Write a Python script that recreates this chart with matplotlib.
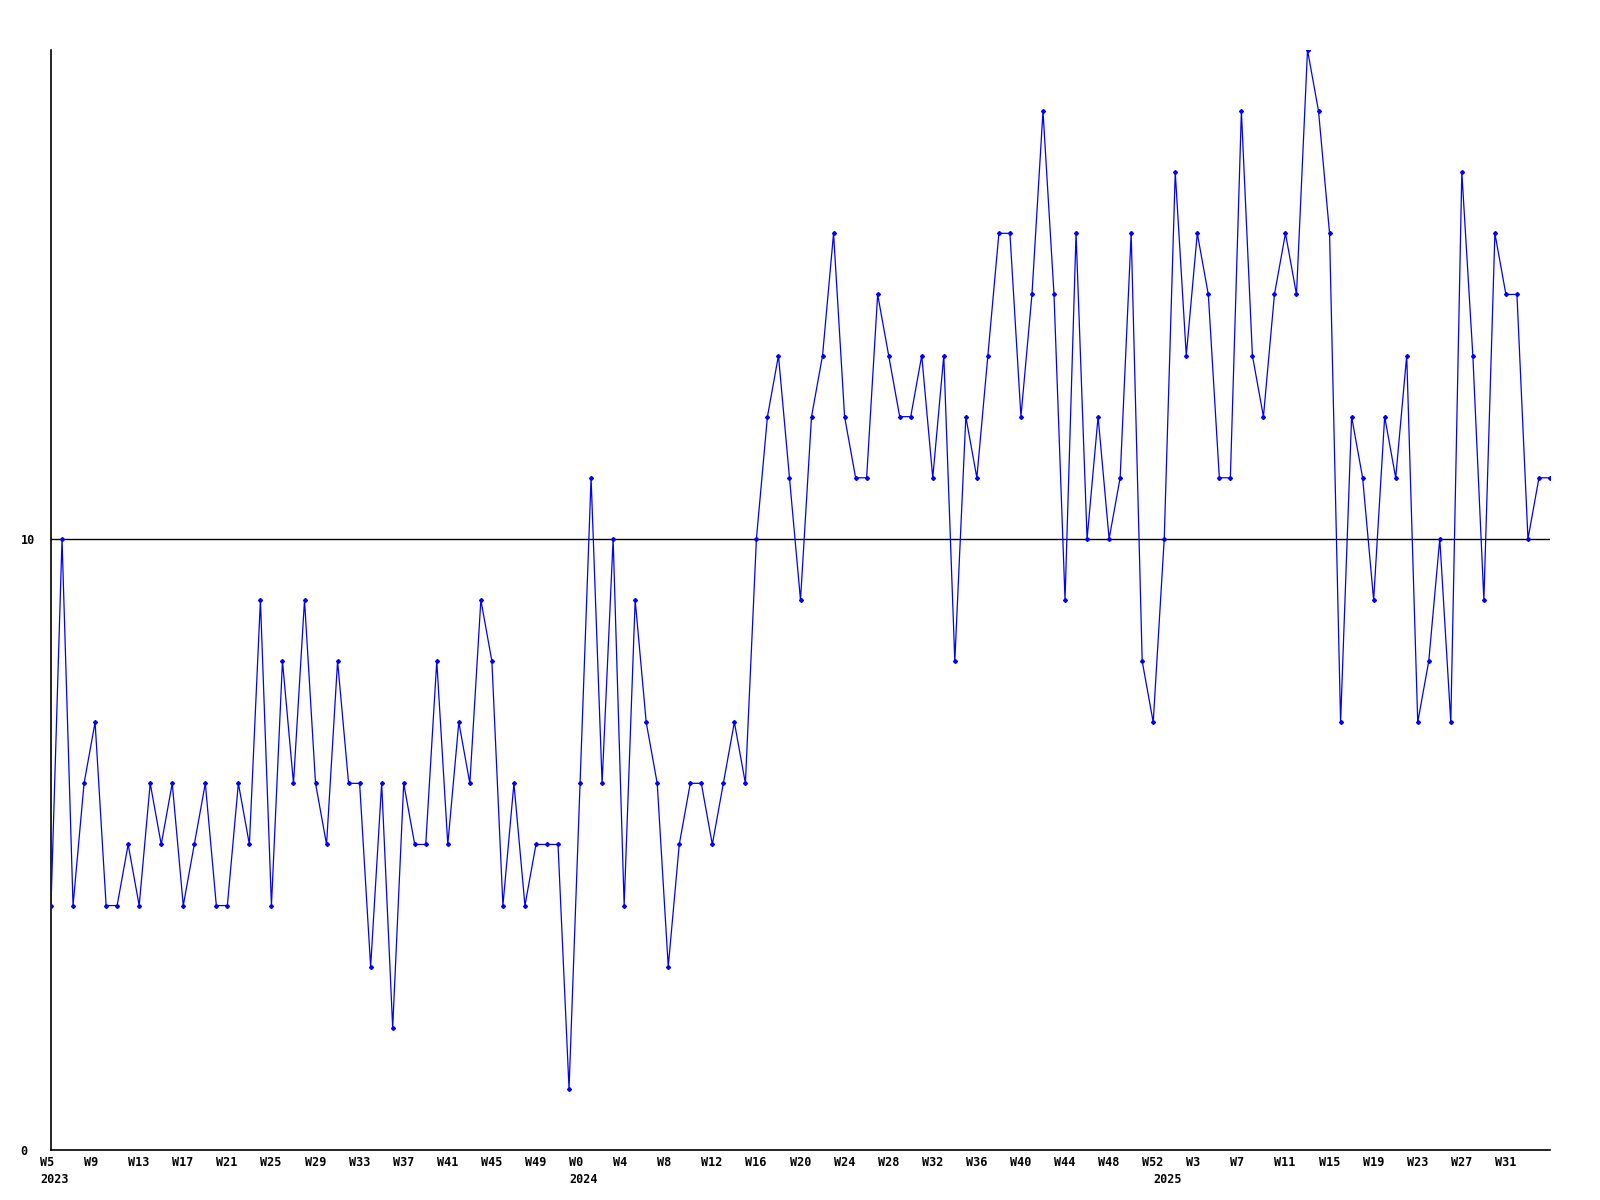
import numpy as np
import matplotlib.pyplot as plt
from matplotlib.transforms import ScaledTranslation

# weekly counts, starting at W5 2023
values = [4, 10, 4, 6, 7, 4, 4, 5, 4, 6, 5, 6, 4, 5, 6, 4, 4, 6, 5, 9,
          4, 8, 6, 9, 6, 5, 8, 6, 6, 3, 6, 2, 6, 5, 5, 8, 5, 7, 6, 9,
          8, 4, 6, 4, 5, 5, 5, 1, 6, 11, 6, 10, 4, 9, 7, 6, 3, 5, 6, 6,
          5, 6, 7, 6, 10, 12, 13, 11, 9, 12, 13, 15, 12, 11, 11, 14, 13, 12, 12, 13,
          11, 13, 8, 12, 11, 13, 15, 15, 12, 14, 17, 14, 9, 15, 10, 12, 10, 11, 15, 8,
          7, 10, 16, 13, 15, 14, 11, 11, 17, 13, 12, 14, 15, 14, 18, 17, 15, 7, 12, 11,
          9, 12, 11, 13, 7, 8, 10, 7, 16, 13, 9, 15, 14, 14, 10, 11, 11]

week_labels = ['W5', 'W9', 'W13', 'W17', 'W21', 'W25', 'W29', 'W33', 'W37', 'W41',
               'W45', 'W49', 'W0', 'W4', 'W8', 'W12', 'W16', 'W20', 'W24', 'W28',
               'W32', 'W36', 'W40', 'W44', 'W48', 'W52', 'W3', 'W7', 'W11', 'W15',
               'W19', 'W23', 'W27', 'W31']
week_pos = [4 * i for i in range(len(week_labels))]
year_labels = ['2023', '2024', '2025']
year_pos = [0, 48, 101]

x = np.arange(len(values))

fig = plt.figure(figsize=(16, 12), dpi=100)
ax = fig.add_axes([51 / 1600, 50 / 1200, 1499 / 1600, 1100 / 1200])

ax.axhline(10, color='black', lw=1, zorder=1)
ax.plot(x, values, color='#0000ff', lw=0.9, marker='D', markersize=2, zorder=3)

ax.set_xlim(0, 136)
ax.set_ylim(0, 18)
for s in ['top', 'right']:
    ax.spines[s].set_visible(False)
for s in ['left', 'bottom']:
    ax.spines[s].set_linewidth(1.2)

font = dict(family='DejaVu Sans Mono', weight='bold', size=8.5)
ax.set_yticks([0, 10])
ax.set_yticklabels(['0', '10'], **font)
ax.tick_params(axis='y', length=0, pad=22)
for lab in ax.get_yticklabels():
    lab.set_ha('left')

ax.set_xticks(week_pos)
ax.set_xticklabels(week_labels, **font)
ax.tick_params(axis='x', length=0, pad=4)
shift = ScaledTranslation(-11 / 100, 0, fig.dpi_scale_trans)
for lab in ax.get_xticklabels():
    lab.set_ha('left')
    lab.set_transform(lab.get_transform() + shift)

for yl, yp in zip(year_labels, year_pos):
    ax.annotate(yl, xy=(yp, 0), xycoords=('data', 'axes fraction'),
                xytext=(-11, -23), textcoords='offset pixels',
                ha='left', va='top', **font)

fig.savefig('out.png', dpi=100)
